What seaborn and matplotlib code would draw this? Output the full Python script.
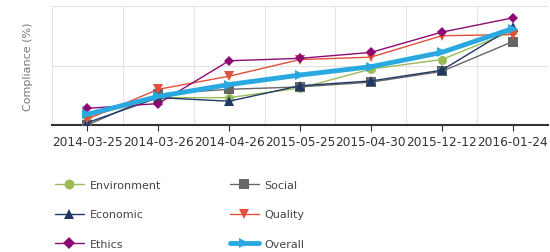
import matplotlib
matplotlib.use("Agg")
import matplotlib.pyplot as plt
import seaborn as sns
import pandas as pd

dates = ["2014-03-25", "2014-03-26", "2014-04-26", "2015-05-25",
         "2015-04-30", "2015-12-12", "2016-01-24"]
environment = [7, 23, 23, 31, 47, 55, 79]
social = [0, 26, 30, 32, 36, 45, 70]
economic = [2, 23, 20, 33, 37, 46, 82]
quality = [5, 30, 41, 55, 57, 75, 76]
ethics = [14, 18, 54, 56, 61, 78, 90]
overall = [9, 24, 34, 42, 49, 61, 81]

series_names = ["Environment", "Social", "Economic", "Quality", "Ethics", "Overall"]
series_vals = [environment, social, economic, quality, ethics, overall]
colors = ["#9bbb59", "#666666", "#1f3864", "#e0503c", "#8e0a73", "#2aa9e0"]
markers = ["o", "s", "^", "v", "D", ">"]

rows = []
for name, vals in zip(series_names, series_vals):
    for i, v in enumerate(vals):
        rows.append({"pos": i, "value": v, "series": name})
df = pd.DataFrame(rows)

sns.set_style("white")
fig = plt.figure(figsize=(5.5, 2.53), dpi=100)
ax = fig.add_axes([52/550, 1-126/253, 496/550, 119/253])

for name, col, mk in zip(series_names, colors, markers):
    sub = df[df.series == name]
    lw = 3.5 if name == "Overall" else 1.0
    ms = 6.5 if mk != "D" else 5.5
    sns.lineplot(data=sub, x="pos", y="value", ax=ax, color=col, marker=mk,
                 markersize=ms, markeredgewidth=0, linewidth=lw, label=name,
                 legend=False, zorder=5 if name == "Overall" else 3)

ax.set_xlim(-0.5, len(dates) - 0.5)
ax.set_ylim(0, 100)
ax.set_xticks(range(len(dates)))
ax.set_xticklabels(dates, fontsize=8.7, color="#333333")
ax.set_yticks([])
for x in [i + 0.5 for i in range(-1, len(dates))]:
    ax.axvline(x, color="#e3e3e3", lw=0.8, zorder=0)
for y in [50, 100]:
    ax.axhline(y, color="#e3e3e3", lw=0.8, zorder=0)
ax.tick_params(axis="x", length=4, width=0.8, color="#333333", pad=3, direction="out", bottom=True)
for s in ["top", "right", "left"]:
    ax.spines[s].set_visible(False)
ax.spines["bottom"].set_color("#333333")
ax.spines["bottom"].set_linewidth(1.5)
ax.set_xlabel("")
ax.set_ylabel("Compliance (%)", fontsize=8, color="#777777", labelpad=14)

handles, labels = ax.get_legend_handles_labels()
order = [0, 2, 4, 1, 3, 5]
fig.legend([handles[i] for i in order], [labels[i] for i in order],
           loc="upper left", bbox_to_anchor=(45/550, 1-171/253), ncol=2,
           frameon=False, fontsize=8, labelspacing=1.75, handlelength=2.6,
           columnspacing=6.2, handletextpad=0.5, labelcolor="#444444",
           markerscale=1.1)

fig.savefig("out.png", dpi=100)
